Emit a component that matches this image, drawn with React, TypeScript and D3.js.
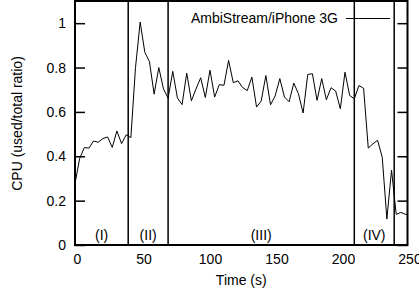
import * as d3 from 'd3';
import React, { useRef, useEffect } from 'react';

// CPU sampled every 3.5 s
const timeS = [
  0, 3.5, 7, 10.5, 14, 17.5, 21, 24.5, 28, 31.5, 35, 38.5, 42, 45.5, 49, 52.5,
  56, 59.5, 63, 66.5, 70, 73.5, 77, 80.5, 84, 87.5, 91, 94.5, 98, 101.5, 105,
  108.5, 112, 115.5, 119, 122.5, 126, 129.5, 133, 136.5, 140, 143.5, 147, 150.5,
  154, 157.5, 161, 164.5, 168, 171.5, 175, 178.5, 182, 185.5, 189, 192.5, 196,
  199.5, 203, 206.5, 210, 213.5, 217, 220.5, 224, 227.5, 231, 234.5, 238, 241.5,
  245, 248.5, 252,
];
const cpuRatio = [
  0.277, 0.39, 0.439, 0.437, 0.469, 0.463, 0.48, 0.487, 0.44, 0.514, 0.457, 0.497,
  0.484, 0.8, 1.005, 0.869, 0.826, 0.68, 0.8, 0.704, 0.662, 0.783, 0.663, 0.633,
  0.775, 0.65, 0.704, 0.754, 0.665, 0.788, 0.667, 0.723, 0.72, 0.832, 0.732, 0.74,
  0.71, 0.696, 0.757, 0.622, 0.649, 0.764, 0.632, 0.672, 0.75, 0.667, 0.646, 0.73,
  0.682, 0.595, 0.769, 0.772, 0.652, 0.75, 0.655, 0.709, 0.694, 0.614, 0.779,
  0.674, 0.659, 0.719, 0.706, 0.437, 0.456, 0.472, 0.396, 0.117, 0.338, 0.138,
  0.147, 0.138, 0.137,
];
const phaseBounds = [0, 40, 70, 210, 240, 250];
const phaseLabels = ['(I)', '(II)', '(III)', '(IV)', ''];
const yTicks = [0, 0.2, 0.4, 0.6, 0.8, 1];
const xTicks = [0, 50, 100, 150, 200, 250];
const seriesName = 'AmbiStream/iPhone 3G';

export default function App() {
  const svgRef = useRef<SVGSVGElement>(null);
  const width = 419;
  const height = 298;
  const left = 75;
  const right = 407.5;
  const top = 1;
  const bottom = 245;
  const font = '"Liberation Sans", Arial, sans-serif';

  useEffect(() => {
    if (!svgRef.current) return;
    const svg = d3.select(svgRef.current);
    svg.selectAll('*').remove();

    const x = d3.scaleLinear().domain([0, 250]).range([left, right]);
    const y = d3.scaleLinear().domain([0, 1.1]).range([bottom, top]);

    svg.append('clipPath').attr('id', 'plotclip')
      .append('rect')
      .attr('x', left).attr('y', top)
      .attr('width', right - left).attr('height', bottom - top);

    // data line
    const pts = timeS.map((t, i) => [t, cpuRatio[i]] as [number, number]);
    const line = d3.line<[number, number]>()
      .x(d => x(d[0]))
      .y(d => y(d[1]));
    svg.append('path')
      .attr('clip-path', 'url(#plotclip)')
      .attr('fill', 'none')
      .attr('stroke', '#000')
      .attr('stroke-width', 1)
      .attr('d', line(pts));

    // phase separators
    svg.append('g').selectAll('line')
      .data(phaseBounds.slice(1, -1))
      .enter().append('line')
      .attr('x1', d => x(d)).attr('x2', d => x(d))
      .attr('y1', top).attr('y2', bottom)
      .attr('stroke', '#000').attr('stroke-width', 1.5);

    // phase labels
    svg.append('g').selectAll('text')
      .data(phaseLabels.map((l, i) => ({ l, mid: (phaseBounds[i] + phaseBounds[i + 1]) / 2 })).filter(d => d.l))
      .enter().append('text')
      .attr('x', d => x(d.mid))
      .attr('y', 239.5)
      .attr('text-anchor', 'middle')
      .attr('font-family', font).attr('font-size', 14)
      .text(d => d.l);

    // y axis left (inner ticks)
    const yl = svg.append('g')
      .attr('transform', `translate(${left},0)`)
      .call(d3.axisLeft(y).tickValues(yTicks).tickSize(-10).tickPadding(9)
        .tickFormat(d => d3.format('~g')(d as number)));
    yl.select('.domain').remove();
    yl.selectAll('line').attr('stroke-width', 1.5);
    yl.selectAll('text').attr('font-family', font).attr('font-size', 14).attr('fill', '#000');

    // y axis right mirror ticks
    const yr = svg.append('g')
      .attr('transform', `translate(${right},0)`)
      .call(d3.axisRight(y).tickValues(yTicks).tickSize(-10).tickFormat(() => ''));
    yr.select('.domain').remove();
    yr.selectAll('line').attr('stroke-width', 1.5);

    // x axis labels
    const xa = svg.append('g')
      .attr('transform', `translate(0,${bottom})`)
      .call(d3.axisBottom(x).tickValues(xTicks).tickSize(0).tickPadding(9.5));
    xa.select('.domain').remove();
    xa.selectAll('text')
      .attr('font-family', font).attr('font-size', 14).attr('fill', '#000')
      .attr('dx', 2);

    // frame
    svg.append('rect')
      .attr('x', left).attr('y', top)
      .attr('width', right - left).attr('height', bottom - top)
      .attr('fill', 'none').attr('stroke', '#000').attr('stroke-width', 2);

    // legend
    svg.append('text')
      .attr('x', 338).attr('y', 23)
      .attr('text-anchor', 'end')
      .attr('font-family', font).attr('font-size', 14)
      .text(seriesName);
    svg.append('line')
      .attr('x1', 346).attr('x2', 390)
      .attr('y1', 18.5).attr('y2', 18.5)
      .attr('stroke', '#000').attr('stroke-width', 1);

    // axis titles
    svg.append('text')
      .attr('x', (left + right) / 2).attr('y', 284.5)
      .attr('text-anchor', 'middle')
      .attr('font-family', font).attr('font-size', 14)
      .text('Time (s)');
    svg.append('text')
      .attr('transform', 'translate(21.5,123.5) rotate(-90)')
      .attr('text-anchor', 'middle')
      .attr('font-family', font).attr('font-size', 14)
      .text('CPU (used/total ratio)');
  }, []);

  return (
    <svg
      ref={svgRef}
      width={width}
      height={height}
      style={{ position: 'absolute', left: 0, top: 0, background: '#fff' }}
    />
  );
}
